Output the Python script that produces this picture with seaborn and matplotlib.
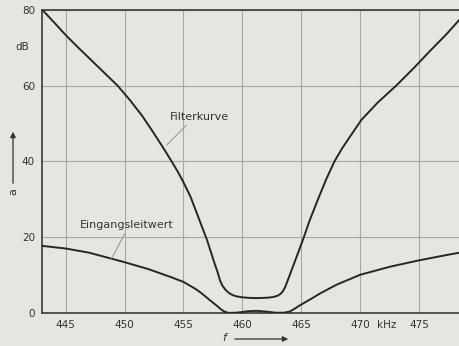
import matplotlib
matplotlib.use("Agg")
import matplotlib.pyplot as plt
import seaborn as sns
import pandas as pd

# Data
filter_khz = [443.0, 444.0, 445.0, 446.0, 447.0, 448.0, 449.4, 450.5, 451.5, 452.3, 453.2,
              454.0, 454.5, 455.0, 455.6, 456.3, 457.0, 457.6, 457.9, 458.1, 458.3, 458.6,
              458.9, 459.2, 459.5, 460.0, 460.6, 461.2, 461.8, 462.3, 462.7, 463.0, 463.2,
              463.4, 463.6, 463.8, 464.0, 464.3, 464.7, 465.2, 465.7, 466.4, 467.1, 467.8,
              468.4, 469.0, 470.1, 471.5, 473.05, 474.5, 476.0, 477.3, 478.4]
filter_db = [80.0, 76.7, 73.3, 70.2, 67.2, 64.2, 60.0, 56.0, 52.0, 48.3, 44.0,
             40.0, 37.4, 34.5, 30.7, 25.0, 19.3, 13.5, 10.8, 8.7, 7.3, 6.1,
             5.3, 4.8, 4.5, 4.25, 4.1, 4.05, 4.1, 4.2, 4.4, 4.7, 5.1,
             5.7, 6.8, 8.4, 10.0, 12.5, 15.8, 20.0, 24.5, 30.0, 35.3, 40.0,
             43.2, 46.0, 51.0, 55.6, 60.0, 64.5, 69.4, 73.5, 77.3]

eing_khz = [443.0, 445.0, 447.0, 450.0, 452.1, 453.0, 454.0, 455.0, 456.0, 456.5, 457.2,
            457.8, 458.1, 458.4, 458.8, 459.5, 460.5, 461.2, 462.0, 462.8, 463.5, 464.0,
            464.4, 464.9, 465.8, 466.6, 468.0, 470.0, 472.5, 475.0, 477.0, 478.4]
eing_db = [17.8, 17.1, 16.0, 13.5, 11.6, 10.6, 9.5, 8.3, 6.5, 5.4, 3.6,
           2.1, 1.3, 0.6, 0.15, 0.2, 0.6, 0.7, 0.5, 0.2, 0.2, 0.5,
           1.2, 2.2, 3.8, 5.3, 7.6, 10.2, 12.3, 14.0, 15.2, 16.0]

x_ticks = [445, 450, 455, 460, 465, 470, 475]
y_ticks = [0, 20, 40, 60, 80]

bg = "#e6e5e0"
ink = "#262626"
grid_c = "#a8a8a4"
txt = "#333333"

sns.set_style("white")
plt.rcParams["font.family"] = ["DejaVu Sans"]

fig = plt.figure(figsize=(4.6, 3.46), dpi=100, facecolor=bg)
ax = fig.add_axes([0.0913, 0.094, 0.9087, 0.8785])
ax.set_facecolor(bg)

df_f = pd.DataFrame({"f": filter_khz, "a": filter_db})
df_e = pd.DataFrame({"f": eing_khz, "a": eing_db})
sns.lineplot(data=df_f, x="f", y="a", ax=ax, color=ink, linewidth=1.4, sort=False, zorder=3)
sns.lineplot(data=df_e, x="f", y="a", ax=ax, color=ink, linewidth=1.4, sort=False, zorder=3)
for ln in ax.lines:
    ln.set_solid_joinstyle("round")
    ln.set_solid_capstyle("round")

ax.set_xlim(443.0, 478.45)
ax.set_ylim(0, 80)
ax.set_xticks(x_ticks)
ax.set_yticks(y_ticks)
ax.set_xticklabels([str(t) for t in x_ticks])
ax.set_yticklabels([str(t) for t in y_ticks])
ax.tick_params(axis="both", length=0, labelsize=7.5, colors=txt)
ax.tick_params(axis="x", pad=5)
ax.tick_params(axis="y", pad=5)
ax.set_xlabel("")
ax.set_ylabel("")
ax.grid(True, color=grid_c, linewidth=0.8)
ax.set_axisbelow(True)

for side in ["left", "bottom", "top"]:
    ax.spines[side].set_color("#3a3a3a")
    ax.spines[side].set_linewidth(1.2)
ax.spines["right"].set_visible(False)

# kHz unit between 470 and 475
ax.text(472.2, -3.1, "kHz", ha="center", va="center", fontsize=7.5, color=txt,
        transform=ax.transData, clip_on=False)
# dB unit
ax.text(-0.03, 70.2, "dB", ha="right", va="center", fontsize=7.5, color=txt,
        transform=ax.get_yaxis_transform(), clip_on=False)

# Axis labels with arrows
fig.text(13 / 460, 1 - 192 / 346, "a", rotation=90, ha="center", va="center",
         fontsize=8, color=txt)
fig.patches.append(matplotlib.patches.FancyArrowPatch(
    (13 / 460, 1 - 186 / 346), (13 / 460, 1 - 129 / 346), transform=fig.transFigure,
    arrowstyle="-|>", mutation_scale=8, color=txt, linewidth=0.9))
fig.text(224 / 460, 1 - 338 / 346, "f", ha="center", va="center", fontsize=8,
         color=txt, style="italic")
fig.patches.append(matplotlib.patches.FancyArrowPatch(
    (232 / 460, 1 - 339 / 346), (291 / 460, 1 - 339 / 346), transform=fig.transFigure,
    arrowstyle="-|>", mutation_scale=8, color=txt, linewidth=0.9))

# Annotations with leader lines
ax.annotate("Filterkurve", xy=(453.57, 44.3), xytext=(453.85, 51.7),
            fontsize=8, color=txt, ha="left", va="center",
            arrowprops=dict(arrowstyle="-", color="#9a9a96", linewidth=0.8,
                            shrinkA=0, shrinkB=0, relpos=(0.33, 0.0)))
ax.annotate("Eingangsleitwert", xy=(448.9, 14.5), xytext=(446.2, 23.2),
            fontsize=8, color=txt, ha="left", va="center",
            arrowprops=dict(arrowstyle="-", color="#9a9a96", linewidth=0.8,
                            shrinkA=0, shrinkB=0, relpos=(0.5, 0.0)))

fig.savefig("out.png", dpi=100, facecolor=bg)
